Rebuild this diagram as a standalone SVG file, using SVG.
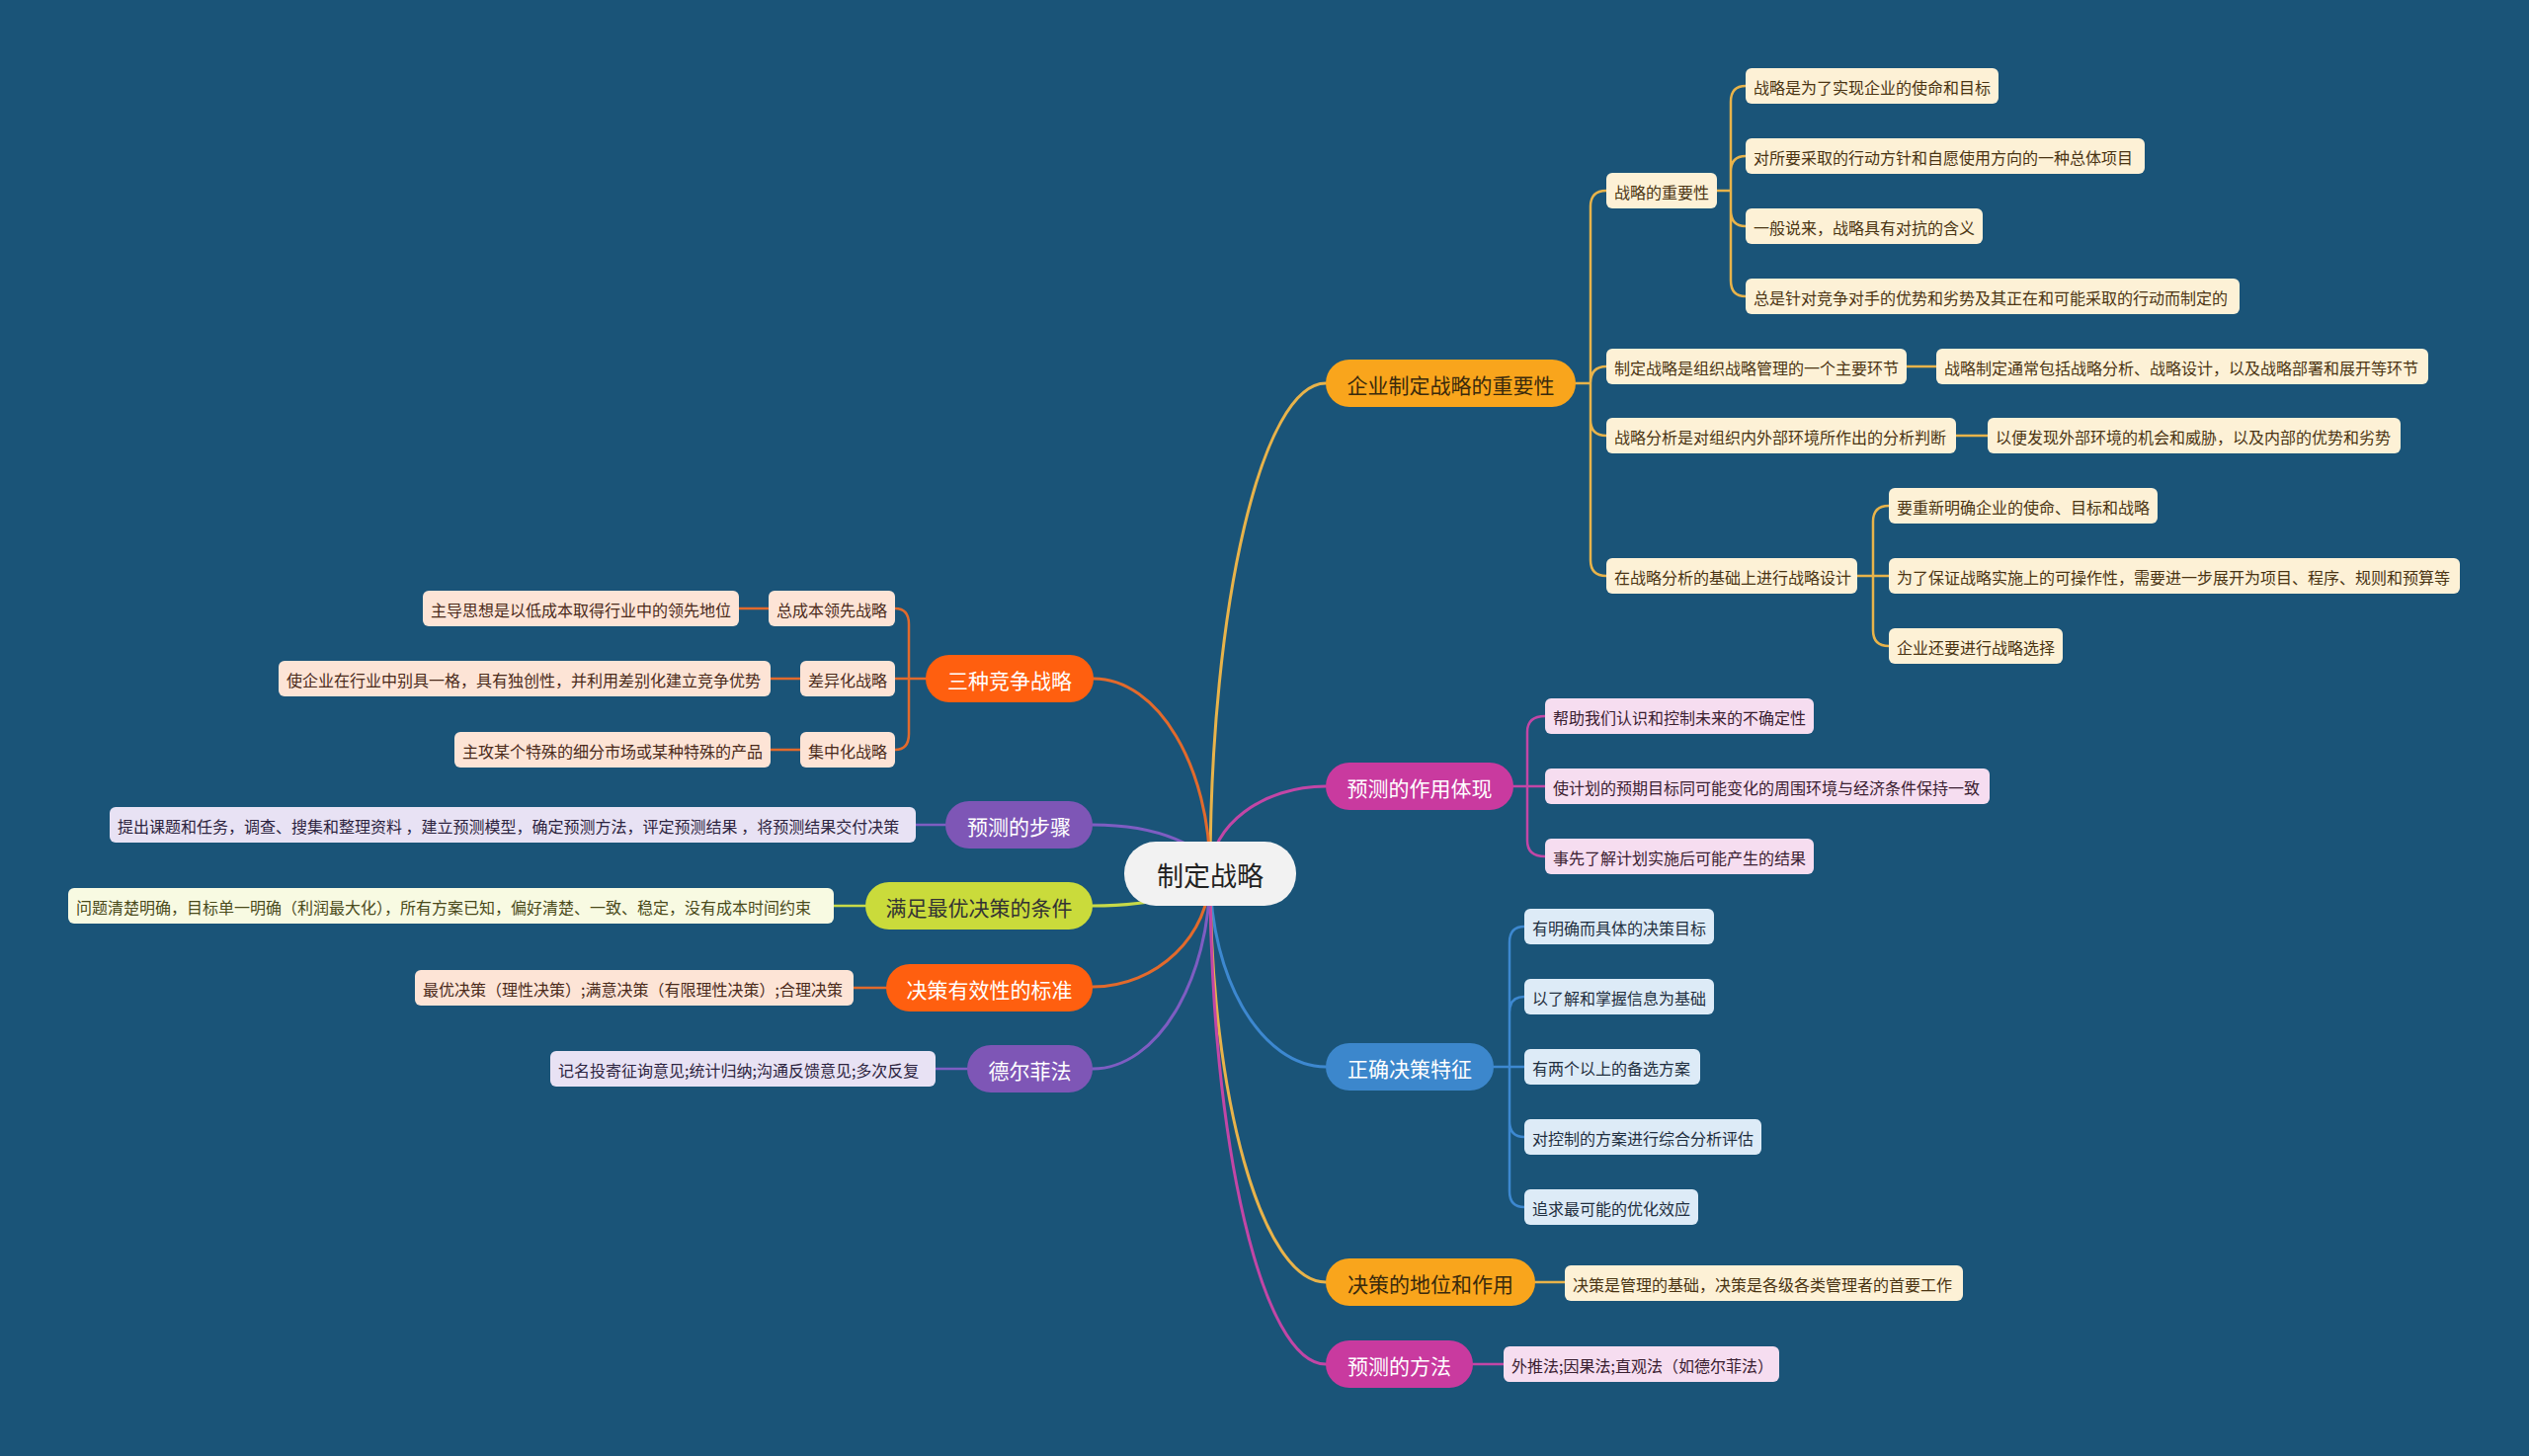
<svg xmlns="http://www.w3.org/2000/svg" width="2560" height="1474" viewBox="0 0 2560 1474">
<style>
text{font-family:"Noto Sans CJK SC","Noto Sans",sans-serif;dominant-baseline:central}
.mt{font-size:21px;text-anchor:middle}
.ct{font-size:16px}
.w{fill:#ffffff}
.d{fill:#3a2a0c}
.c{fill:none;stroke-linecap:round}
.m{stroke-width:3}
.s{stroke-width:2.5}
.kO{stroke:#E8B34A}.kM{stroke:#C246A6}.kB{stroke:#3D88D0}.kR{stroke:#E26A2C}.kP{stroke:#7E5DC2}.kY{stroke:#C8DA48}
.bO{fill:#FDF1D6}.tO{fill:#4A3412}
.bM{fill:#F6DDF0}.tM{fill:#3A2030}
.bB{fill:#DDEBF7}.tB{fill:#1F2F40}
.bR{fill:#FDE4D6}.tR{fill:#4A2A1A}
.bP{fill:#E8E2F4}.tP{fill:#2D2440}
.bY{fill:#F8FAE2}.tY{fill:#4A4A1A}
</style>
<rect width="2560" height="1474" fill="#1A5478"/>
<g id="connectors">
<path class="c m kO" d="M1225 884 C1225 611 1278 388 1342 388"/>
<path class="c m kM" d="M1225 884 C1225 836 1278 796 1342 796"/>
<path class="c m kB" d="M1225 884 C1225 992 1278 1080 1342 1080"/>
<path class="c m kO" d="M1225 884 C1225 1112 1278 1298 1342 1298"/>
<path class="c m kM" d="M1225 884 C1225 1157 1278 1381 1342 1381"/>
<path class="c m kR" d="M1225 884 C1225 776 1172 687 1107 687"/>
<path class="c m kP" d="M1225 884 C1225 857 1171 835 1106 835"/>
<path class="c m kY" d="M1225 884 C1225 902 1171 917 1106 917"/>
<path class="c m kR" d="M1225 884 C1225 947 1171 999 1106 999"/>
<path class="c m kP" d="M1225 884 C1225 993 1171 1082 1106 1082"/>
<path class="c s kO" d="M1595 388 H1610 M1610 388 V209 Q1610 193 1626 193 M1610 388 Q1610 371 1626 371 M1610 388 V425 Q1610 441 1626 441 M1610 388 V567 Q1610 583 1626 583"/>
<path class="c s kO" d="M1737 193 H1752 M1752 193 V103 Q1752 87 1767 87 M1752 193 V174 Q1752 158 1767 158 M1752 193 V213 Q1752 229 1767 229 M1752 193 V284 Q1752 300 1767 300"/>
<path class="c s kO" d="M1930 371 H1960 M1980 441 H2012"/>
<path class="c s kO" d="M1880 583 H1896 M1896 583 V528 Q1896 512 1912 512 M1896 583 H1912 M1896 583 V638 Q1896 654 1912 654"/>
<path class="c s kM" d="M1532 796 H1546 M1546 796 V741 Q1546 725 1564 725 M1546 796 H1564 M1546 796 V851 Q1546 867 1564 867"/>
<path class="c s kB" d="M1512 1080 H1528 M1528 1080 V954 Q1528 938 1543 938 M1528 1080 V1025 Q1528 1009 1543 1009 M1528 1080 H1543 M1528 1080 V1135 Q1528 1151 1543 1151 M1528 1080 V1206 Q1528 1222 1543 1222"/>
<path class="c s kO" d="M1554 1298 H1584"/>
<path class="c s kM" d="M1491 1381 H1522"/>
<path class="c s kR" d="M937 687 H920 M920 687 V632 Q920 616 906 616 M920 687 H906 M920 687 V743 Q920 759 906 759"/>
<path class="c s kR" d="M778 616 H748 M810 687 H780 M810 759 H780"/>
<path class="c s kP" d="M957 835 H927"/>
<path class="c s kY" d="M876 917 H844"/>
<path class="c s kR" d="M897 1000 H864"/>
<path class="c s kP" d="M979 1082 H947"/>
</g>
<g id="root">
<rect x="1138" y="852" width="174" height="65" rx="32" fill="#F2F2F2"/>
<text x="1225" y="885" font-size="27" text-anchor="middle" fill="#222">制定战略</text>
</g>
<g id="n-A"><rect x="1342" y="364" width="253" height="48" rx="24" fill="#F9A51C"/><text class="mt d" x="1468.5" y="389">企业制定战略的重要性</text></g>
<g id="n-B"><rect x="1342" y="772" width="190" height="48" rx="24" fill="#C93A9F"/><text class="mt w" x="1437" y="797">预测的作用体现</text></g>
<g id="n-C"><rect x="1342" y="1056" width="170" height="48" rx="24" fill="#3C87CC"/><text class="mt w" x="1427" y="1081">正确决策特征</text></g>
<g id="n-D"><rect x="1342" y="1274" width="212" height="48" rx="24" fill="#F9A51C"/><text class="mt d" x="1448" y="1299">决策的地位和作用</text></g>
<g id="n-E"><rect x="1342" y="1357" width="149" height="48" rx="24" fill="#C93A9F"/><text class="mt w" x="1416.5" y="1382">预测的方法</text></g>
<g id="n-F"><rect x="937" y="663" width="170" height="48" rx="24" fill="#FF5F0F"/><text class="mt w" x="1022" y="688">三种竞争战略</text></g>
<g id="n-G"><rect x="957" y="811" width="149" height="48" rx="24" fill="#7E56B6"/><text class="mt w" x="1031.5" y="836">预测的步骤</text></g>
<g id="n-H"><rect x="876" y="893" width="230" height="48" rx="24" fill="#CADB3B"/><text class="mt" x="991" y="918" fill="#333">满足最优决策的条件</text></g>
<g id="n-I"><rect x="897" y="976" width="209" height="48" rx="24" fill="#FF5F0F"/><text class="mt w" x="1001.5" y="1001">决策有效性的标准</text></g>
<g id="n-J"><rect x="979" y="1058" width="127" height="48" rx="24" fill="#7E56B6"/><text class="mt w" x="1042.5" y="1083">德尔菲法</text></g>
<g id="n-A1"><rect class="bO" x="1626" y="175" width="112" height="36" rx="6"/><text class="ct tO" x="1634" y="194">战略的重要性</text></g>
<g id="n-A1a"><rect class="bO" x="1767" y="69" width="256" height="36" rx="6"/><text class="ct tO" x="1775" y="88">战略是为了实现企业的使命和目标</text></g>
<g id="n-A1b"><rect class="bO" x="1767" y="140" width="404" height="36" rx="6"/><text class="ct tO" x="1775" y="159">对所要采取的行动方针和自愿使用方向的一种总体项目</text></g>
<g id="n-A1c"><rect class="bO" x="1767" y="211" width="240" height="36" rx="6"/><text class="ct tO" x="1775" y="230">一般说来，战略具有对抗的含义</text></g>
<g id="n-A1d"><rect class="bO" x="1767" y="282" width="500" height="36" rx="6"/><text class="ct tO" x="1775" y="301">总是针对竞争对手的优势和劣势及其正在和可能采取的行动而制定的</text></g>
<g id="n-A2"><rect class="bO" x="1626" y="353" width="304" height="36" rx="6"/><text class="ct tO" x="1634" y="372">制定战略是组织战略管理的一个主要环节</text></g>
<g id="n-A2a"><rect class="bO" x="1960" y="353" width="498" height="36" rx="6"/><text class="ct tO" x="1968" y="372">战略制定通常包括战略分析、战略设计，以及战略部署和展开等环节</text></g>
<g id="n-A3"><rect class="bO" x="1626" y="423" width="354" height="36" rx="6"/><text class="ct tO" x="1634" y="442">战略分析是对组织内外部环境所作出的分析判断</text></g>
<g id="n-A3a"><rect class="bO" x="2012" y="423" width="418" height="36" rx="6"/><text class="ct tO" x="2020" y="442">以便发现外部环境的机会和威胁，以及内部的优势和劣势</text></g>
<g id="n-A4"><rect class="bO" x="1626" y="565" width="254" height="36" rx="6"/><text class="ct tO" x="1634" y="584">在战略分析的基础上进行战略设计</text></g>
<g id="n-A4a"><rect class="bO" x="1912" y="494" width="272" height="36" rx="6"/><text class="ct tO" x="1920" y="513">要重新明确企业的使命、目标和战略</text></g>
<g id="n-A4b"><rect class="bO" x="1912" y="565" width="578" height="36" rx="6"/><text class="ct tO" x="1920" y="584">为了保证战略实施上的可操作性，需要进一步展开为项目、程序、规则和预算等</text></g>
<g id="n-A4c"><rect class="bO" x="1912" y="636" width="176" height="36" rx="6"/><text class="ct tO" x="1920" y="655">企业还要进行战略选择</text></g>
<g id="n-B1"><rect class="bM" x="1564" y="707" width="272" height="36" rx="6"/><text class="ct tM" x="1572" y="726">帮助我们认识和控制未来的不确定性</text></g>
<g id="n-B2"><rect class="bM" x="1564" y="778" width="450" height="36" rx="6"/><text class="ct tM" x="1572" y="797">使计划的预期目标同可能变化的周围环境与经济条件保持一致</text></g>
<g id="n-B3"><rect class="bM" x="1564" y="849" width="272" height="36" rx="6"/><text class="ct tM" x="1572" y="868">事先了解计划实施后可能产生的结果</text></g>
<g id="n-C1"><rect class="bB" x="1543" y="920" width="192" height="36" rx="6"/><text class="ct tB" x="1551" y="939">有明确而具体的决策目标</text></g>
<g id="n-C2"><rect class="bB" x="1543" y="991" width="192" height="36" rx="6"/><text class="ct tB" x="1551" y="1010">以了解和掌握信息为基础</text></g>
<g id="n-C3"><rect class="bB" x="1543" y="1062" width="178" height="36" rx="6"/><text class="ct tB" x="1551" y="1081">有两个以上的备选方案</text></g>
<g id="n-C4"><rect class="bB" x="1543" y="1133" width="240" height="36" rx="6"/><text class="ct tB" x="1551" y="1152">对控制的方案进行综合分析评估</text></g>
<g id="n-C5"><rect class="bB" x="1543" y="1204" width="176" height="36" rx="6"/><text class="ct tB" x="1551" y="1223">追求最可能的优化效应</text></g>
<g id="n-D1"><rect class="bO" x="1584" y="1281" width="403" height="36" rx="6"/><text class="ct tO" x="1592" y="1300">决策是管理的基础，决策是各级各类管理者的首要工作</text></g>
<g id="n-E1"><rect class="bM" x="1522" y="1363" width="279" height="36" rx="6"/><text class="ct tM" x="1530" y="1382">外推法;因果法;直观法（如德尔菲法）</text></g>
<g id="n-F1"><rect class="bR" x="778" y="598" width="128" height="36" rx="6"/><text class="ct tR" x="786" y="617">总成本领先战略</text></g>
<g id="n-F2"><rect class="bR" x="810" y="669" width="96" height="36" rx="6"/><text class="ct tR" x="818" y="688">差异化战略</text></g>
<g id="n-F3"><rect class="bR" x="810" y="741" width="96" height="36" rx="6"/><text class="ct tR" x="818" y="760">集中化战略</text></g>
<g id="n-F1a"><rect class="bR" x="428" y="598" width="320" height="36" rx="6"/><text class="ct tR" x="436" y="617">主导思想是以低成本取得行业中的领先地位</text></g>
<g id="n-F2a"><rect class="bR" x="282" y="669" width="498" height="36" rx="6"/><text class="ct tR" x="290" y="688">使企业在行业中别具一格，具有独创性，并利用差别化建立竞争优势</text></g>
<g id="n-F3a"><rect class="bR" x="460" y="741" width="320" height="36" rx="6"/><text class="ct tR" x="468" y="760">主攻某个特殊的细分市场或某种特殊的产品</text></g>
<g id="n-G1"><rect class="bP" x="111" y="817" width="816" height="36" rx="6"/><text class="ct tP" x="119" y="836">提出课题和任务，调查、搜集和整理资料 ，建立预测模型，确定预测方法，评定预测结果 ，将预测结果交付决策</text></g>
<g id="n-H1"><rect class="bY" x="69" y="899" width="775" height="36" rx="6"/><text class="ct tY" x="77" y="918">问题清楚明确，目标单一明确（利润最大化），所有方案已知，偏好清楚、一致、稳定，没有成本时间约束</text></g>
<g id="n-I1"><rect class="bR" x="420" y="982" width="444" height="36" rx="6"/><text class="ct tR" x="428" y="1001">最优决策（理性决策）;满意决策（有限理性决策）;合理决策</text></g>
<g id="n-J1"><rect class="bP" x="557" y="1064" width="390" height="36" rx="6"/><text class="ct tP" x="565" y="1083">记名投寄征询意见;统计归纳;沟通反馈意见;多次反复</text></g>
</svg>
